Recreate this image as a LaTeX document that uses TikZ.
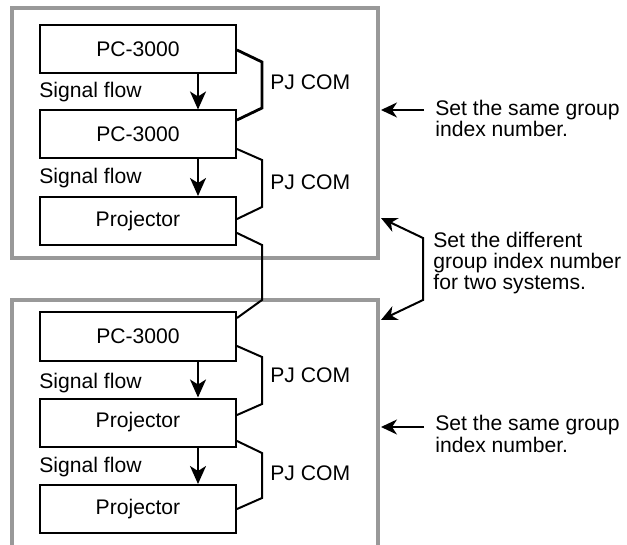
\documentclass[tikz,border=0pt]{standalone}
\usepackage{fontspec}
\setmainfont{Liberation Sans}
\usetikzlibrary{arrows.meta,calc}
\definecolor{framegray}{HTML}{999999}
\begin{document}
\begin{tikzpicture}[x=0.5bp,y=-0.5bp,
  unit/.style={draw,line width=1bp,minimum width=98bp,minimum height=24bp,inner sep=0pt,font=\fontsize{10.6}{12}\selectfont},
  frame/.style={draw=framegray,line width=2bp},
  cable/.style={draw,line width=1bp,line join=miter},
  sig/.style={draw,line width=1bp,-{Stealth[length=9bp,width=8bp,inset=2.5bp]}},
  note/.style={draw,line width=1bp,-{Stealth[length=8bp,width=7.5bp,inset=2.5bp]}},
  lbl/.style={anchor=base west,inner sep=0pt,font=\fontsize{10.6}{12}\selectfont},
  ntext/.style={anchor=base west,inner sep=0pt,align=left,font=\fontsize{10.6}{10.54}\selectfont}]
\useasboundingbox (0,0) rectangle (627,545);
% frames
\draw[frame] (11.5,8.5) rectangle (378,258);
\draw[frame] (11.5,548) -- (11.5,300) -- (378,300) -- (378,548);
% units
\node[unit] (b1) at (138,49) {PC-3000};
\node[unit] (b2) at (138,134.5) {PC-3000};
\node[unit] (b3) at (138,221) {Projector};
\node[unit] (b4) at (138,336.5) {PC-3000};
\node[unit] (b5) at (138,422.5) {Projector};
\node[unit] (b6) at (138,509) {Projector};
% signal arrows
\draw[sig] ([xshift=30bp]b1.south) -- ([xshift=30bp]b2.north);
\draw[sig] ([xshift=30bp]b2.south) -- ([xshift=30bp]b3.north);
\draw[sig] ([xshift=30bp]b4.south) -- ([xshift=30bp]b5.north);
\draw[sig] ([xshift=30bp]b5.south) -- ([xshift=30bp]b6.north);
\node[lbl] (s1) at (39,98) {Signal flow};
\node[lbl] (s2) at (39,184) {Signal flow};
\node[lbl] (s3) at (39,388) {Signal flow};
\node[lbl] (s4) at (39,472) {Signal flow};
% PJ COM cables
\draw[cable,line width=1.4bp] ([yshift=-0.5bp]b1.east) -- (262,62) -- (262,108) -- ([yshift=7.25bp]b2.east);
\draw[cable] ([yshift=-7.25bp]b2.east) -- (262,160) -- (262,207) -- ([yshift=1bp]b3.east);
\draw[cable] ([yshift=-6bp]b3.east) -- (262,245) -- (262,300) -- ([yshift=9.25bp]b4.east);
\draw[cable] ([yshift=-4.75bp]b4.east) -- (262,357) -- (262,404) -- ([yshift=3.75bp]b5.east);
\draw[cable] ([yshift=-9.25bp]b5.east) -- (262,453) -- (262,498) -- (b6.east);
\node[lbl] (p1) at (270,90) {PJ COM};
\node[lbl] (p2) at (270,190) {PJ COM};
\node[lbl] (p3) at (270,382) {PJ COM};
\node[lbl] (p4) at (270,480) {PJ COM};
% notes (anchored at the baseline of the last line)
\node[ntext] (n1) at (435,137) {Set the same group\\index number.};
\node[ntext] (n2) at (433,290) {Set the different\\group index number\\for two systems.};
\node[ntext] (n3) at (435,452) {Set the same group\\index number.};
\coordinate (a1s) at (424,110);
\coordinate (a1e) at (381,110);
\draw[note] (a1s) -- (a1e);
\coordinate (a3s) at (424,427);
\coordinate (a3e) at (381,427);
\draw[note] (a3s) -- (a3e);
\coordinate (k1) at (423,238);
\coordinate (k2) at (423,300);
\coordinate (t1) at (381,218);
\coordinate (t2) at (381,320);
\draw[note,{Stealth[length=8bp,width=7.5bp,inset=2.5bp]}-{Stealth[length=8bp,width=7.5bp,inset=2.5bp]},line join=miter] (t1) -- (k1) -- (k2) -- (t2);
\end{tikzpicture}
\end{document}
